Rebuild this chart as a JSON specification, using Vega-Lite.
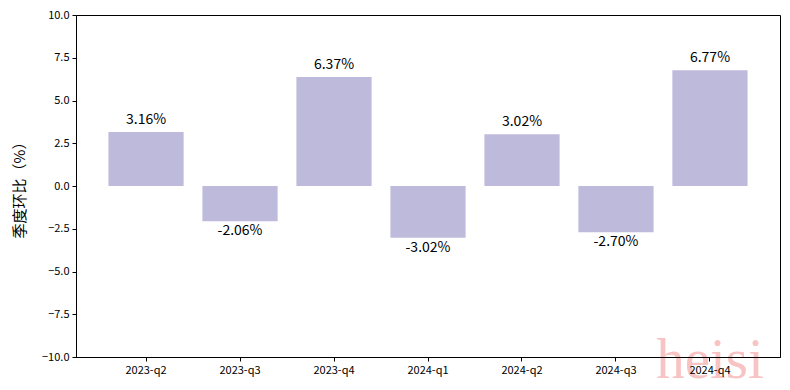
{
  "$schema": "https://vega.github.io/schema/vega-lite/v6.json",
  "width": 704,
  "height": 342,
  "autosize": "none",
  "padding": {"left": 76, "top": 15, "right": 10, "bottom": 33},
  "background": "white",
  "config": {
    "view": {"stroke": "black", "strokeWidth": 1},
    "font": "Noto Sans CJK SC"
  },
  "data": {
    "values": [
      {"q": "2023-q2", "v": 3.16, "label": "3.16%"},
      {"q": "2023-q3", "v": -2.06, "label": "-2.06%"},
      {"q": "2023-q4", "v": 6.37, "label": "6.37%"},
      {"q": "2024-q1", "v": -3.02, "label": "-3.02%"},
      {"q": "2024-q2", "v": 3.02, "label": "3.02%"},
      {"q": "2024-q3", "v": -2.70, "label": "-2.70%"},
      {"q": "2024-q4", "v": 6.77, "label": "6.77%"}
    ]
  },
  "encoding": {
    "x": {
      "field": "q", "type": "nominal",
      "sort": ["2023-q2", "2023-q3", "2023-q4", "2024-q1", "2024-q2", "2024-q3", "2024-q4"],
      "scale": {"paddingInner": 0.2, "paddingOuter": 0.345},
      "axis": {"title": null, "labelAngle": 0, "labelFontSize": 11, "labelColor": "black", "domainColor": "black", "tickColor": "black", "tickSize": 4, "labelPadding": 3, "labelFont": "Noto Sans CJK SC", "zindex": 1}
    },
    "y": {
      "field": "v", "type": "quantitative",
      "scale": {"domain": [-10, 10], "nice": false, "zero": false},
      "axis": {"title": "季度环比（%）", "titleFontSize": 15, "titleFontWeight": "normal", "titleColor": "black", "titlePadding": 14, "values": [-10, -7.5, -5, -2.5, 0, 2.5, 5, 7.5, 10], "format": ".1f", "labelFontSize": 11, "labelColor": "black", "grid": false, "domainColor": "black", "tickColor": "black", "tickSize": 4, "labelPadding": 3}
    }
  },
  "layer": [
    {
      "data": {"values": [{"q": "2024-q4", "v": -10, "wm": "heisi"}]},
      "mark": {"type": "text", "baseline": "alphabetic", "dy": 21, "font": "Liberation Serif", "fontSize": 57, "color": "#f7b5b5", "opacity": 0.8},
      "encoding": {"text": {"field": "wm"}}
    },
    {"mark": {"type": "bar", "color": "#bebadb"}},
    {
      "transform": [{"filter": "datum.v >= 0"}],
      "mark": {"type": "text", "baseline": "bottom", "dy": -5, "fontSize": 14, "color": "black"},
      "encoding": {"text": {"field": "label"}}
    },
    {
      "transform": [{"filter": "datum.v < 0"}],
      "mark": {"type": "text", "baseline": "top", "dy": 3, "fontSize": 14, "color": "black"},
      "encoding": {"text": {"field": "label"}}
    }
  ]
}
